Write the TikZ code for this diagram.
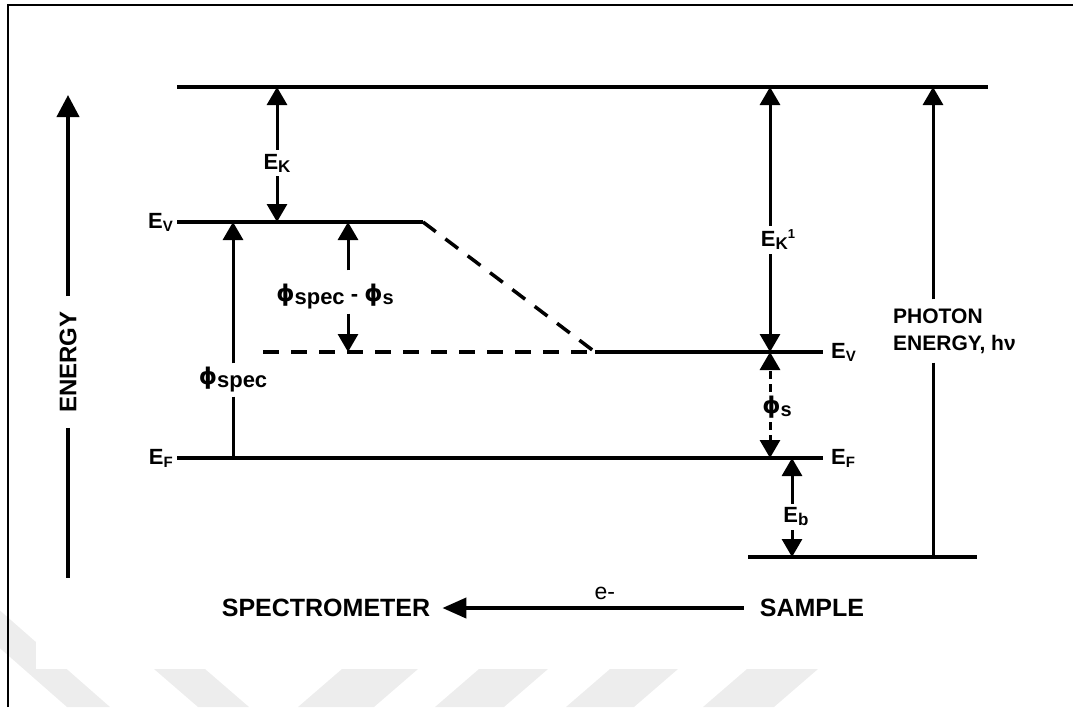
\documentclass[tikz,border=0pt]{standalone}
\usepackage{fontspec}
\setmainfont{Liberation Sans}
\newfontfamily\phifont{DejaVu Sans}
\usetikzlibrary{arrows.meta,positioning}

\newcommand{\lsub}[2][17]{\raisebox{-3pt}{\fontsize{#1}{#1}\selectfont #2}}
\newcommand{\lsup}[1]{\raisebox{8pt}{\fontsize{13}{13}\selectfont #1}}
\newcommand{\wf}{{\phifont\fontsize{23}{23}\selectfont ϕ}}

\tikzset{
  lvl/.style={line width=3.5pt},
  dlvl/.style={lvl,dash pattern=on 16pt off 12pt},
  arr/.style={line width=3pt,-{Triangle[length=18pt,width=20pt]}},
  darr/.style={arr,dash pattern=on 8pt off 5pt},
  shaft/.style={line width=3pt},
  lbl/.style={font=\bfseries\fontsize{22}{23}\selectfont,inner sep=4pt},
  bigtext/.style={font=\bfseries\fontsize{25}{26}\selectfont,inner sep=0pt},
  stripe/.style={fill=black!7}
}

\begin{document}
\begin{tikzpicture}[x=1pt,y=-1pt]
\useasboundingbox (0,0) rectangle (1073,707);

% watermark
\fill[stripe] (-55,600) -- (-12,600) -- (110,707) -- (67,707) -- cycle;
\fill[stripe] (154,669) -- (205,669) -- (249,707) -- (198,707) -- cycle;
\foreach \a/\b in {342/418,479/548,610/678,747/818}
  \fill[stripe] (\a,669) -- (\b,669) -- (\b-44,707) -- (\a-44,707) -- cycle;
\fill[white] (36,560) rectangle (1073,669);

% frame
\draw[line width=2pt] (7.5,707) -- (7.5,5) -- (1073,5);

% levels
\coordinate (vac) at (177,87);
\coordinate (vacr) at (988,87);
\coordinate (evl) at (177,222);
\coordinate (evk) at (423,222);
\coordinate (evd) at (263,352);
\coordinate (evs) at (595,352);
\coordinate (evr) at (823,352);
\coordinate (efl) at (177,458);
\coordinate (efr) at (823,458);
\coordinate (cl) at (748,557);
\coordinate (cr) at (977,557);

\draw[lvl] (vac) -- (vacr);
\draw[lvl] (evl) -- (evk);
\draw[dlvl] (evk) -- (evs);
\draw[dlvl] (evd) -- (evs);
\draw[lvl] (evs) -- (evr);
\draw[lvl] (efl) -- (efr);
\draw[lvl] (cl) -- (cr);

\node[lbl,left] (evlab) at (evl) {E\lsub[15]{V}};
\node[lbl,left] (eflab) at (efl) {E\lsub[15]{F}};
\node[lbl,right,xshift=4pt] (evlab2) at (evr) {E\lsub[15]{V}};
\node[lbl,right,xshift=4pt] (eflab2) at (efr) {E\lsub[15]{F}};

% spectrometer side
\node[lbl] (ek) at (277,163) {E\lsub{K}};
\draw[arr] (ek) -- (ek |- vac);
\draw[arr] (ek) -- (ek |- evl);

\node[lbl] (wspec) at (233,380) {\wf\lsub[22]{spec}};
\draw[arr] (wspec) -- (wspec |- evl);
\draw[shaft] (wspec) -- (wspec |- efl);

\node[lbl] (wdiff) at (335,297) {\wf\lsub[22]{spec} - \wf\lsub[20]{s}};
\coordinate (d1) at (348,222);
\coordinate (d2) at (348,352);
\draw[arr] ([yshift=10pt]d1 |- wdiff.north) -- (d1);
\draw[arr] (d2 |- wdiff.south) -- (d2);

% sample side
\node[lbl] (ek1) at (778,240) {E\lsub{K}\lsup{1}};
\coordinate (k1) at (770,87);
\coordinate (k2) at (770,352);
\coordinate (k3) at (770,458);
\draw[arr] (k1 |- ek1.north) -- (k1);
\draw[arr] (k2 |- ek1.south) -- (k2);

\node[lbl] (ws) at (777,407) {\wf\lsub[20]{s}};
\draw[darr] (k2 |- ws.north) -- (k2);
\draw[darr] (k3 |- ws.south) -- (k3);

\node[lbl] (eb) at (796,517) {E\lsub{b}};
\coordinate (b1) at (792,458);
\coordinate (b2) at (792,557);
\draw[arr] (b1 |- eb.north) -- (b1);
\draw[arr] (b2 |- eb.south) -- (b2);

\node[font=\bfseries\fontsize{21}{27}\selectfont,align=left,anchor=west,inner sep=9pt] (photon) at (884,331) {PHOTON\\ENERGY, hν};
\coordinate (p1) at (933,87);
\coordinate (p2) at (933,557);
\draw[arr] (p1 |- photon.north) -- (p1);
\draw[shaft] (p2 |- photon.south) -- (p2);

% energy axis
\node[font=\bfseries\fontsize{24}{24}\selectfont,rotate=90,inner xsep=15pt] (energy) at (68,362) {ENERGY};
\coordinate (eup) at (68,95);
\coordinate (edn) at (68,578);
\draw[line width=4pt,-{Triangle[length=22pt,width=22pt]}] (energy.east) -- (eup);
\draw[line width=4pt] (energy.west) -- (edn);

% electron path
\node[bigtext] (spec) at (326,608) {SPECTROMETER};
\node[bigtext] (sample) at (812,608) {SAMPLE};
\draw[line width=4pt,-{Triangle[length=24pt,width=20pt]},shorten <=16pt,shorten >=12pt]
  (sample) -- node[pos=0.47,above=3pt,font=\fontsize{23}{23}\selectfont] (elec) {e-} (spec);
\end{tikzpicture}
\end{document}
